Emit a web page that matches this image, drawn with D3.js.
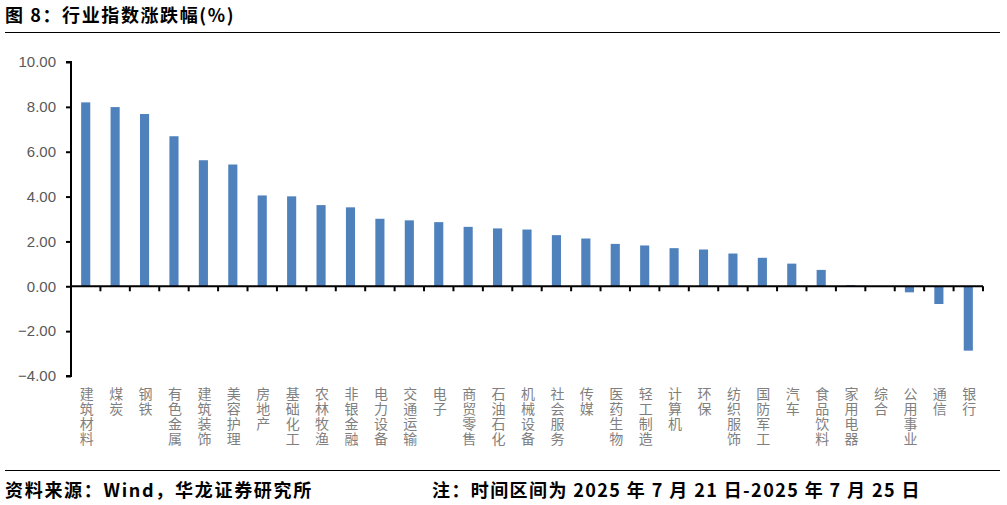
<!DOCTYPE html>
<html>
<head>
<meta charset="utf-8">
<script src="https://cdn.jsdelivr.net/npm/d3@7"></script>
<style>
  body { margin: 0; background: #fff; }
</style>
</head>
<body>
<div id="chart"></div>
<script>
// industry names and weekly change (%)
const industries = ['建筑材料', '煤炭', '钢铁', '有色金属', '建筑装饰', '美容护理', '房地产', '基础化工',
    '农林牧渔', '非银金融', '电力设备', '交通运输', '电子', '商贸零售', '石油石化', '机械设备',
    '社会服务', '传媒', '医药生物', '轻工制造', '计算机', '环保', '纺织服饰', '国防军工',
    '汽车', '食品饮料', '家用电器', '综合', '公用事业', '通信', '银行'];
const changes = [8.20, 7.99, 7.68, 6.69, 5.62, 5.43, 4.05, 4.01,
    3.62, 3.52, 3.01, 2.94, 2.86, 2.65, 2.58, 2.53,
    2.28, 2.13, 1.89, 1.82, 1.70, 1.64, 1.46, 1.27,
    1.01, 0.73, 0.05, 0.00, -0.27, -0.79, -2.87];
const yTicks = [10, 8, 6, 4, 2, 0, -2, -4];

const data = industries.map((name, i) => ({name, value: changes[i]}));

const width = 1007, height = 505;
const svg = d3.select('#chart')
    .append('svg')
    .attr('width', width)
    .attr('height', height);

// title + rule
svg.append('text')
    .attr('x', 5)
    .attr('y', 22)
    .attr('font-family', 'Noto Sans CJK SC')
    .attr('font-weight', 'bold')
    .attr('font-size', 18)
    .attr('letter-spacing', 1.6)
    .attr('fill', '#000')
    .text('图 8：行业指数涨跌幅(%)');
svg.append('line')
    .attr('x1', 5).attr('x2', 1000)
    .attr('y1', 32.5).attr('y2', 32.5)
    .attr('stroke', '#000').attr('stroke-width', 1);

// plot area
const margin = {left: 71, right: 24, top: 62, bottom: 129};
const plotW = width - margin.left - margin.right;
const graph = svg.append('g')
    .attr('transform', `translate(${margin.left}, 0)`);

const x = d3.scaleBand()
    .domain(industries)
    .range([0, plotW]);
const y = d3.scaleLinear()
    .domain([-4, 10])
    .range([376, 62]);

const barW = x.bandwidth() * 0.31;
graph.selectAll('rect')
    .data(data)
    .enter()
    .append('rect')
    .attr('x', d => x(d.name) + (x.bandwidth() - barW) / 2)
    .attr('width', barW)
    .attr('y', d => y(Math.max(0, d.value)))
    .attr('height', d => Math.abs(y(d.value) - y(0)))
    .attr('fill', '#4f81bd');

// y axis
const yAxis = d3.axisLeft(y)
    .tickValues(yTicks)
    .tickSize(5)
    .tickFormat(d3.format('.2f'));
const yAxisGroup = graph.append('g').call(yAxis);
yAxisGroup.select('.domain').attr('stroke', '#000').attr('stroke-width', 2)
    .attr('d', `M-5,${y(10)}H0V${y(-4)}H-5`);
yAxisGroup.selectAll('.tick line').attr('stroke', '#000').attr('stroke-width', 2);
yAxisGroup.selectAll('.tick text')
    .attr('x', -15)
    .attr('font-family', 'Liberation Sans, Arial')
    .attr('font-size', 15)
    .attr('fill', '#595959');

// x axis at zero, ticks on band boundaries
const xAxisGroup = graph.append('g')
    .attr('transform', `translate(0, ${y(0)})`);
xAxisGroup.append('line')
    .attr('x1', 0).attr('x2', plotW)
    .attr('stroke', '#000').attr('stroke-width', 2);
const bounds = industries.map(d => x(d) + x.bandwidth());
xAxisGroup.selectAll('.xtick')
    .data(bounds)
    .enter()
    .append('line')
    .attr('class', 'xtick')
    .attr('x1', d => d).attr('x2', d => d)
    .attr('y1', 0).attr('y2', 5)
    .attr('stroke', '#000').attr('stroke-width', 2);

// vertical category labels (upright glyphs stacked top-down)
graph.selectAll('.cat')
    .data(industries)
    .enter()
    .append('text')
    .attr('class', 'cat')
    .attr('x', d => x(d) + x.bandwidth() / 2 + 1)
    .attr('y', 387)
    .attr('writing-mode', 'vertical-rl')
    .style('text-orientation', 'upright')
    .attr('letter-spacing', 1)
    .attr('font-family', 'Noto Sans CJK SC')
    .attr('font-size', 14)
    .attr('fill', '#7f7f7f')
    .text(d => d);

// footer
svg.append('line')
    .attr('x1', 5).attr('x2', 1000)
    .attr('y1', 470.5).attr('y2', 470.5)
    .attr('stroke', '#000').attr('stroke-width', 1);
svg.append('text')
    .attr('x', 5)
    .attr('y', 497)
    .attr('font-family', 'Noto Sans CJK SC')
    .attr('font-weight', 'bold')
    .attr('font-size', 18)
    .attr('letter-spacing', 1.7)
    .text('资料来源：Wind，华龙证券研究所');
svg.append('text')
    .attr('x', 432)
    .attr('y', 497)
    .attr('font-family', 'Noto Sans CJK SC')
    .attr('font-weight', 'bold')
    .attr('font-size', 18)
    .attr('letter-spacing', 1.4)
    .text('注：时间区间为 2025 年 7 月 21 日-2025 年 7 月 25 日');
</script>
</body>
</html>
